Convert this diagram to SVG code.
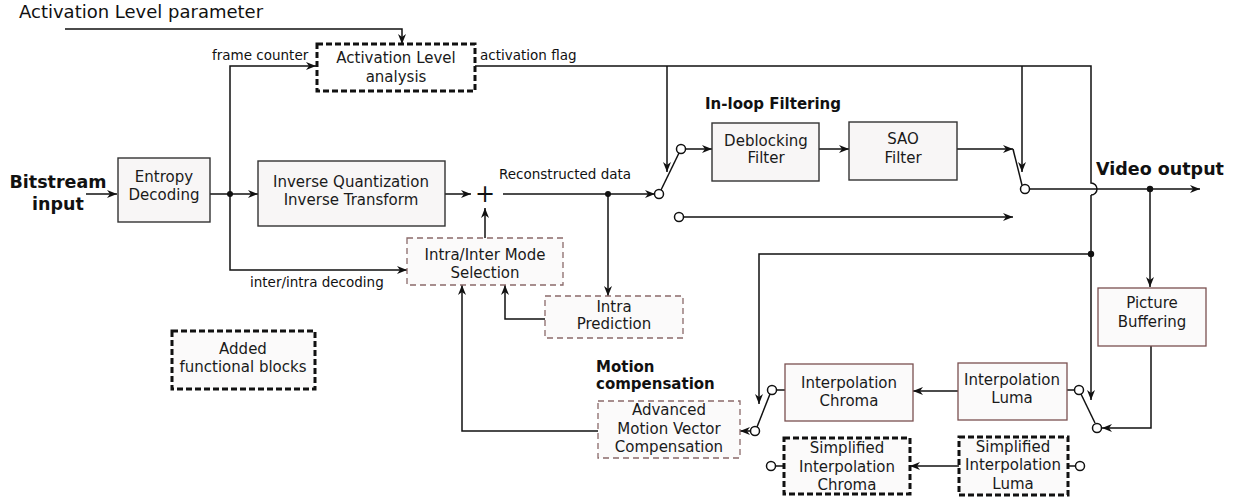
<svg xmlns="http://www.w3.org/2000/svg" width="1245" height="502" viewBox="0 0 1245 502">
<style>
text{font-family:"DejaVu Sans","Noto Sans",sans-serif;fill:#111;}
.t{font-size:15px;text-anchor:middle;fill:#1a1a1a;}
.l{font-size:13.5px;}
.b{font-weight:bold;}
.box{fill:#f8f6f6;stroke:#333;stroke-width:1.4;}
.bbox{fill:#fbfafa;stroke:#7a5050;stroke-width:1.3;}
.dbox{fill:#fbfafa;stroke:#8a6a6a;stroke-width:1.3;stroke-dasharray:6,4;}
.kbox{fill:#fbfafa;stroke:#111;stroke-width:3;stroke-dasharray:6,3;}
.c{fill:none;stroke:#111;stroke-width:1.5;}
.ca{fill:none;stroke:#111;stroke-width:1.5;marker-end:url(#a);}
.sw{fill:#fff;stroke:#111;stroke-width:1.5;}
.dot{fill:#111;}
</style>
<defs>
<marker id="a" viewBox="0 0 10 8" refX="10" refY="4" markerWidth="11" markerHeight="8" orient="auto" markerUnits="userSpaceOnUse"><path d="M0,0 L10,4 L0,8 L3,4 z" fill="#111"/></marker>
</defs>
<rect width="1245" height="502" fill="#fff"/>

<text x="19" y="18" style="font-size:18px">Activation Level parameter</text>
<text x="212" y="60" class="l">frame counter</text>
<text x="480" y="60" class="l">activation flag</text>
<text x="499" y="179" class="l">Reconstructed data</text>
<text x="250" y="287" class="l">inter/intra decoding</text>
<text x="705" y="109" class="b" style="font-size:15px">In-loop Filtering</text>
<text x="596" y="372" class="b" style="font-size:15px">Motion</text>
<text x="596" y="389" class="b" style="font-size:15px">compensation</text>
<text x="58" y="188" class="b" style="font-size:17.5px;text-anchor:middle">Bitstream</text>
<text x="58" y="210" class="b" style="font-size:17.5px;text-anchor:middle">input</text>
<text x="1160" y="175" class="b" style="font-size:17.5px;text-anchor:middle">Video output</text>
<text x="485" y="202" style="font-size:24px;text-anchor:middle">+</text>

<g id="connectors">
<path class="ca" d="M65,29 H402 V44"/>
<path class="ca" d="M230,194 V66 H316"/>
<path class="ca" d="M230,194 V270 H407"/>
<path class="ca" d="M86,194 H117"/>
<path class="ca" d="M210,194 H258"/>
<circle class="dot" cx="230" cy="194" r="3"/>
<path class="ca" d="M445,194 H471"/>
<path class="ca" d="M503,194 H655"/>
<circle class="dot" cx="608" cy="194" r="3"/>
<path class="ca" d="M608,194 V296"/>
<path class="ca" d="M485,238 V208"/>
<path class="ca" d="M545,319 H505 V285"/>
<path class="ca" d="M598,431 H462 V285"/>
<path class="c" d="M661,190 L679,153"/>
<path class="ca" d="M686,149 H712"/>
<path class="ca" d="M819,149 H849"/>
<path class="ca" d="M957,149 H1013"/>
<path class="c" d="M1013,149 L1022,185"/>
<path class="ca" d="M1030,189 H1200"/>
<circle class="dot" cx="1150" cy="189" r="3.2"/>
<path class="ca" d="M1150,189 V287"/>
<path class="c" d="M475,66 H1091 V183 A6,6 0 0 1 1091,195"/>
<path class="ca" d="M1091,195 V400"/>
<path class="ca" d="M667,66 V172"/>
<path class="ca" d="M1022,66 V172"/>
<circle class="dot" cx="1091" cy="254" r="3.2"/>
<path class="ca" d="M1091,254 H759 V404"/>
<path class="ca" d="M684,217 H1013"/>
<path class="ca" d="M1151,346 V428 H1102"/>
<path class="c" d="M1095,423 L1081,394"/>
<path class="c" d="M1067,390 H1074"/>
<path class="ca" d="M958,391 H913"/>
<path class="c" d="M785,390 H777"/>
<path class="c" d="M770,394 L757,427"/>
<path class="ca" d="M750,431 H740"/>
<path class="ca" d="M959,466 H910"/>
<path class="c" d="M776,466 H784"/>
<path class="c" d="M1068,466 H1075"/>
<circle class="sw" cx="659" cy="194" r="4.5"/>
<circle class="sw" cx="681" cy="149" r="4.5"/>
<circle class="sw" cx="1025" cy="189" r="4.5"/>
<circle class="sw" cx="679" cy="217" r="4.5"/>
<circle class="sw" cx="1097" cy="428" r="4.5"/>
<circle class="sw" cx="1079" cy="390" r="4.5"/>
<circle class="sw" cx="772" cy="390" r="4.5"/>
<circle class="sw" cx="755" cy="431" r="4.5"/>
<circle class="sw" cx="771" cy="466" r="4.5"/>
<circle class="sw" cx="1080" cy="466" r="4.5"/>
</g>

<g id="activation">
<rect class="kbox" x="317" y="44" width="158" height="47" style="fill:#fff"/>
<text class="t" x="396" y="63">Activation Level</text>
<text class="t" x="396" y="82">analysis</text>
</g>
<g id="entropy">
<rect class="box" x="118" y="158" width="92" height="64"/>
<text class="t" x="164" y="182">Entropy</text>
<text class="t" x="164" y="200">Decoding</text>
</g>
<g id="iqit">
<rect class="box" x="258" y="161" width="187" height="65"/>
<text class="t" x="351" y="187">Inverse Quantization</text>
<text class="t" x="351" y="205">Inverse Transform</text>
</g>
<g id="modesel">
<rect class="dbox" x="407" y="238" width="156" height="47"/>
<text class="t" x="485" y="260">Intra/Inter Mode</text>
<text class="t" x="485" y="278">Selection</text>
</g>
<g id="intrapred">
<rect class="dbox" x="545" y="296" width="138" height="42"/>
<text class="t" x="614" y="312">Intra</text>
<text class="t" x="614" y="329">Prediction</text>
</g>
<g id="added">
<rect class="kbox" x="172" y="331" width="143" height="58"/>
<text class="t" x="243" y="354">Added</text>
<text class="t" x="243" y="372">functional blocks</text>
</g>
<g id="deblock">
<rect class="box" x="712" y="123" width="107" height="58"/>
<text class="t" x="766" y="146">Deblocking</text>
<text class="t" x="766" y="163">Filter</text>
</g>
<g id="sao">
<rect class="box" x="849" y="122" width="108" height="58"/>
<text class="t" x="903" y="144">SAO</text>
<text class="t" x="903" y="163">Filter</text>
</g>
<g id="picbuf">
<rect class="bbox" x="1098" y="288" width="108" height="58"/>
<text class="t" x="1152" y="308">Picture</text>
<text class="t" x="1152" y="327">Buffering</text>
</g>
<g id="interpluma">
<rect class="bbox" x="958" y="363" width="109" height="57"/>
<text class="t" x="1012" y="385">Interpolation</text>
<text class="t" x="1012" y="403">Luma</text>
</g>
<g id="interpchroma">
<rect class="bbox" x="785" y="364" width="128" height="57"/>
<text class="t" x="849" y="388">Interpolation</text>
<text class="t" x="849" y="406">Chroma</text>
</g>
<g id="amvc">
<rect class="dbox" x="598" y="401" width="142" height="57"/>
<text class="t" x="669" y="415">Advanced</text>
<text class="t" x="669" y="434">Motion Vector</text>
<text class="t" x="669" y="452">Compensation</text>
</g>
<g id="simpchroma">
<rect class="kbox" x="784" y="438" width="126" height="56"/>
<text class="t" x="847" y="453">Simplified</text>
<text class="t" x="847" y="472">Interpolation</text>
<text class="t" x="847" y="490">Chroma</text>
</g>
<g id="simpluma">
<rect class="kbox" x="959" y="437" width="109" height="58"/>
<text class="t" x="1013" y="452">Simplified</text>
<text class="t" x="1013" y="470">Interpolation</text>
<text class="t" x="1013" y="489">Luma</text>
</g>
</svg>
